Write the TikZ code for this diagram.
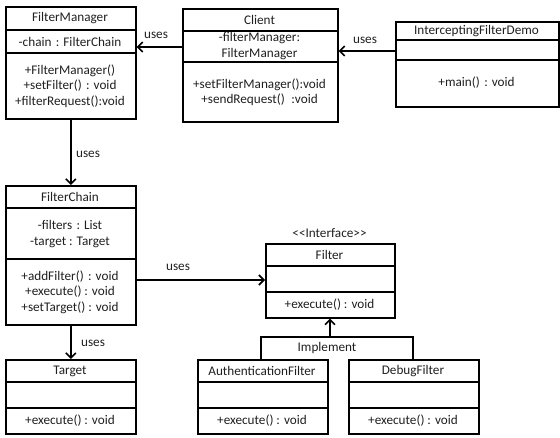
\documentclass[tikz,border=0pt]{standalone}
\usepackage{fontspec}
\setmainfont{Carlito}
\usetikzlibrary{arrows.meta}
\begin{document}
\begin{tikzpicture}[x=1pt,y=-1pt,
  box/.style={draw=black,line width=1.6pt,anchor=north west,inner sep=0pt},
  txt/.style={font=\fontsize{13.2pt}{15.5pt}\selectfont,text=black!88,align=center,inner sep=0pt},
  div/.style={line width=1.6pt},
  arr/.style={line width=1.6pt,-{Straight Barb[length=5pt,width=10pt,line width=1.6pt]}}
]
\useasboundingbox (0,0) rectangle (560,438);
% FilterManager
\node[box,minimum width=130pt,minimum height=112pt] (fm) at (5,6) {};
\draw[div] (5,30) -- (135,30) (5,53) -- (135,53);
\node[txt] (fmt) at (70,18) {FilterManager};
\node[txt] (fma) at (70,42) {-chain\,\,: FilterChain};
\node[txt] (fmm) at (70,86) {+FilterManager()\\+setFilter()\,\,: void\\+filterRequest():void};
% Client
\node[box,minimum width=155pt,minimum height=113pt] (cl) at (182,8) {};
\draw[div] (182,31) -- (337,31) (182,62) -- (337,62);
\node[txt] (clt) at (259.5,20) {Client};
\node[txt] (cla) at (259.5,46) {-filterManager:\\FilterManager};
\node[txt] (clm) at (259.5,92) {+setFilterManager():void\\+sendRequest()\,\,\,:void};
% InterceptingFilterDemo
\node[box,minimum width=163pt,minimum height=85pt] (dm) at (395,21) {};
\draw[div] (395,40) -- (558,40) (395,60) -- (558,60);
\node[txt] (dmt) at (476.5,31) {InterceptingFilterDemo};
\node[txt] (dmm) at (476.5,83) {+main()\,\,: void};
% FilterChain
\node[box,minimum width=130pt,minimum height=139pt] (fc) at (5,185) {};
\draw[div] (5,208) -- (135,208) (5,259) -- (135,259);
\node[txt] (fct) at (70,197) {FilterChain};
\node[txt] (fca) at (70,234) {-filters\,\,: List\\-target : Target};
\node[txt] (fcm) at (70,292) {+addFilter()\,\,: void\\+execute() : void\\+setTarget() : void};
% Filter
\node[txt] (ifc) at (329.5,233) {<\kern0pt<Interface>\kern0pt>};
\node[box,minimum width=129pt,minimum height=74pt] (fi) at (265,243) {};
\draw[div] (265,266) -- (394,266);
\draw[line width=2.6pt] (265,292) -- (394,292);
\node[txt] (fit) at (329.5,255) {Filter};
\node[txt] (fim) at (329.5,305) {+execute() : void};
% AuthenticationFilter
\node[box,minimum width=130pt,minimum height=74pt] (af) at (197,359) {};
\draw[div] (197,382) -- (327,382) (197,408) -- (327,408);
\node[txt] (aft) at (262,371) {AuthenticationFilter};
\node[txt] (afm) at (262,421) {+execute() : void};
% DebugFilter
\node[box,minimum width=130pt,minimum height=74pt] (df) at (348,359) {};
\draw[div] (348,382) -- (478,382) (348,408) -- (478,408);
\node[txt] (dft) at (413,371) {DebugFilter};
\node[txt] (dfm) at (413,421) {+execute() : void};
% Target
\node[box,minimum width=130pt,minimum height=74pt] (tg) at (5,359) {};
\draw[div] (5,382) -- (135,382) (5,408) -- (135,408);
\node[txt] (tgt) at (70,371) {Target};
\node[txt] (tgm) at (70,421) {+execute() : void};
% Implement bracket
\coordinate (bl) at (261,337);
\coordinate (br) at (413,337);
\coordinate (bm) at (330,337);
\draw[div] (bl |- af.north) -- (bl) -- (br) -- (br |- df.north);
\draw[arr] (bm) -- (bm |- fi.south);
\node[txt] (impl) at (327,348) {Implement};
% uses arrows
\draw[arr] (cl.west |- 0,47) -- (fm.east |- 0,47);
\node[txt] (u1) at (156,35) {uses};
\draw[arr] (dm.west |- 0,51) -- (cl.east |- 0,51);
\node[txt] (u2) at (365,40) {uses};
\draw[arr] (fm.south) -- (fc.north);
\node[txt] (u3) at (88,154) {uses};
\draw[arr] (fc.east |- 0,280) -- (fi.west |- 0,280);
\node[txt] (u4) at (178,267) {uses};
\draw[arr] (fc.south) -- (tg.north);
\node[txt] (u5) at (93,343) {uses};
\end{tikzpicture}
\end{document}
